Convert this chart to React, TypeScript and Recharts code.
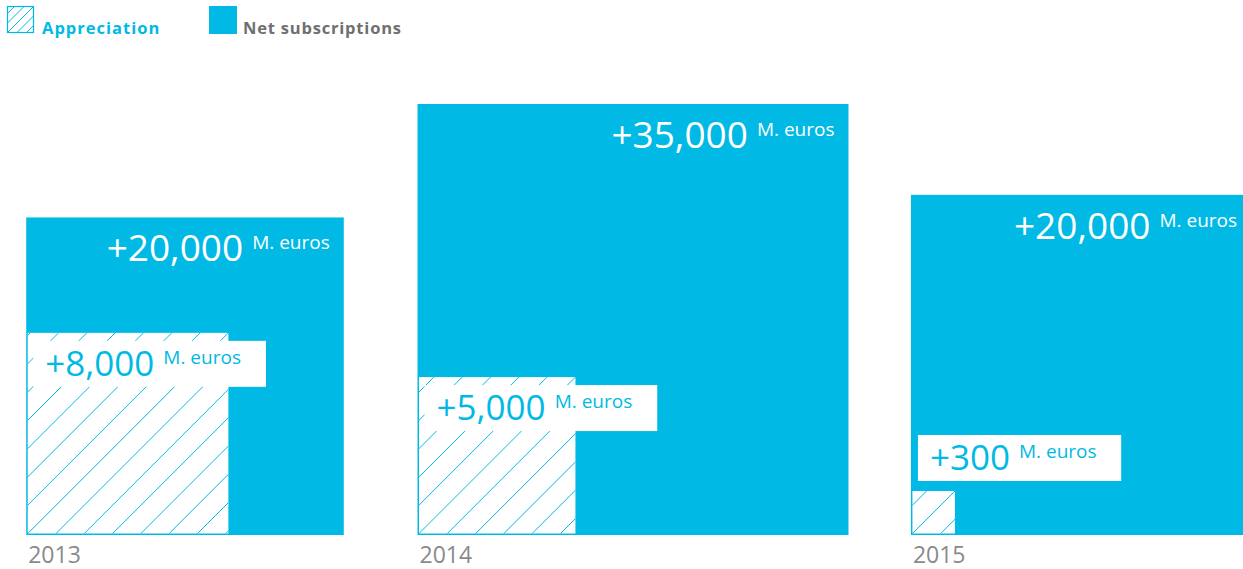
import React from "react";
import { BarChart, Bar, XAxis, YAxis } from "recharts";

// Squares drawn with side ~ sqrt(value): the y axis is a sqrt scale, and each
// bar's custom shape turns its height into a square centred in its band.

const CYAN = "#00b9e4";
const GREY_TEXT = "#8a8a8a";
const LEGEND_GREY = "#6f6f6f";
const FONT = "'Open Sans', 'Noto Sans', sans-serif";

const years = ["2013", "2014", "2015"];
// values as drawn (square areas), M. euros
const netSubscriptions = [19000, 35000, 21800];
const appreciation = [7700, 4700, 365];
// printed labels
const netLabels = ["+20,000", "+35,000", "+20,000"];
const appreciationLabels = ["+8,000", "+5,000", "+300"];
const UNIT = "M. euros";

const data = years.map((year, i) => ({
  year,
  net: netSubscriptions[i],
  appreciation: appreciation[i],
  netLabel: netLabels[i],
  apprLabel: appreciationLabels[i],
}));

const HATCH = 28.3; // horizontal spacing of the "/" hatch lines

// rough text width for Open Sans, used to size the white label boxes
function textWidth(s: string, fs: number) {
  let w = 0;
  for (const c of s) {
    if (c === "," || c === "." || c === " ") w += 0.27;
    else if (c === "M") w += 0.88;
    else if (/[0-9+]/.test(c)) w += 0.572;
    else w += 0.56;
  }
  return w * fs;
}

function NetSquare(props: any) {
  const { x, y, width, height, payload } = props;
  const side = height;
  const left = x + width / 2 - side / 2;
  const bottom = y + height;
  return (
    <g>
      <rect x={left} y={y} width={side} height={side} fill={CYAN} />
      <text
        x={left + side - 14}
        y={y + 44}
        textAnchor="end"
        fill="#fff"
        fontFamily={FONT}
      >
        <tspan fontSize={37}>{payload.netLabel}</tspan>
        <tspan fontSize={19} dx={9} dy={-12}>
          {UNIT}
        </tspan>
      </text>
      <text x={left + 2} y={bottom + 28} fontSize={23} fill={GREY_TEXT} fontFamily={FONT}>
        {payload.year}
      </text>
    </g>
  );
}

function ApprSquare(props: any) {
  const { x, y, width, height, payload, index } = props;
  const side = height;
  // net square side from the same sqrt scale, to left-align the two squares
  const netSide = side * Math.sqrt(payload.net / payload.appreciation);
  const left = x + width / 2 - netSide / 2;
  const top = y;
  const bottom = y + height;
  const clipId = `appr-clip-${index}`;

  const n = Math.ceil(side / HATCH) + 1;
  const lines = [];
  for (let k = -n; k <= n; k++) {
    const x0 = left + k * HATCH;
    lines.push(
      <line
        key={k}
        x1={x0}
        y1={bottom}
        x2={x0 + side}
        y2={bottom - side}
        stroke={CYAN}
        strokeWidth={1}
      />
    );
  }

  const fits = side > 120;
  const boxX = left + 7;
  const boxY = fits ? top + 8 : top - 56;
  const boxH = 46;
  const boxW = 12 + textWidth(payload.apprLabel, 35) + 9 + textWidth(UNIT, 19) + 22;

  return (
    <g>
      <defs>
        <clipPath id={clipId}>
          <rect x={left + 1.5} y={top} width={side - 1.5} height={side - 1.5} />
        </clipPath>
      </defs>
      <rect x={left + 1.5} y={top} width={side - 1.5} height={side - 1.5} fill="#fff" />
      <g clipPath={`url(#${clipId})`}>{lines}</g>
      <rect x={boxX} y={boxY} width={boxW} height={boxH} fill="#fff" />
      <text x={boxX + 12} y={boxY + 35} fill={CYAN} fontFamily={FONT}>
        <tspan fontSize={35}>{payload.apprLabel}</tspan>
        <tspan fontSize={19} dx={9} dy={-12}>
          {UNIT}
        </tspan>
      </text>
    </g>
  );
}

function LegendRow() {
  const iconLines = [];
  for (let k = -3; k <= 3; k++) {
    const x0 = 7 + k * 9.5;
    iconLines.push(
      <line key={k} x1={x0} y1={33} x2={x0 + 27} y2={6} stroke={CYAN} strokeWidth={1} />
    );
  }
  return (
    <svg
      width={420}
      height={45}
      style={{ position: "absolute", left: 0, top: 0 }}
    >
      <defs>
        <clipPath id="legend-hatch">
          <rect x={7} y={6} width={27} height={27} />
        </clipPath>
      </defs>
      <rect x={7.5} y={6.5} width={26} height={26} fill="#fff" stroke={CYAN} strokeWidth={1.2} />
      <g clipPath="url(#legend-hatch)">{iconLines}</g>
      <text
        x={42}
        y={34}
        fontSize={16.5}
        fontWeight="bold"
        letterSpacing={1}
        fill={CYAN}
        fontFamily={FONT}
      >
        Appreciation
      </text>
      <rect x={209} y={6} width={28} height={28} fill={CYAN} />
      <text
        x={243}
        y={34}
        fontSize={16.5}
        fontWeight="bold"
        letterSpacing={0.8}
        fill={LEGEND_GREY}
        fontFamily={FONT}
      >
        Net subscriptions
      </text>
    </svg>
  );
}

export default function App() {
  return (
    <div
      style={{
        position: "absolute",
        left: 0,
        top: 0,
        width: 1243,
        height: 569,
        overflow: "hidden",
        background: "#fff",
      }}
    >
      <div style={{ position: "absolute", left: -39, top: 0 }}>
        <BarChart
          width={1344}
          height={569}
          data={data}
          margin={{ top: 104, right: 0, bottom: 34, left: 0 }}
          barCategoryGap={0}
          barGap={0}
        >
          <XAxis xAxisId="net" dataKey="year" hide />
          <XAxis xAxisId="appr" dataKey="year" hide />
          <YAxis hide scale="sqrt" domain={[0, 35000]} />
          <Bar xAxisId="net" dataKey="net" shape={NetSquare} isAnimationActive={false} />
          <Bar
            xAxisId="appr"
            dataKey="appreciation"
            shape={ApprSquare}
            isAnimationActive={false}
          />
        </BarChart>
      </div>
      <LegendRow />
    </div>
  );
}
